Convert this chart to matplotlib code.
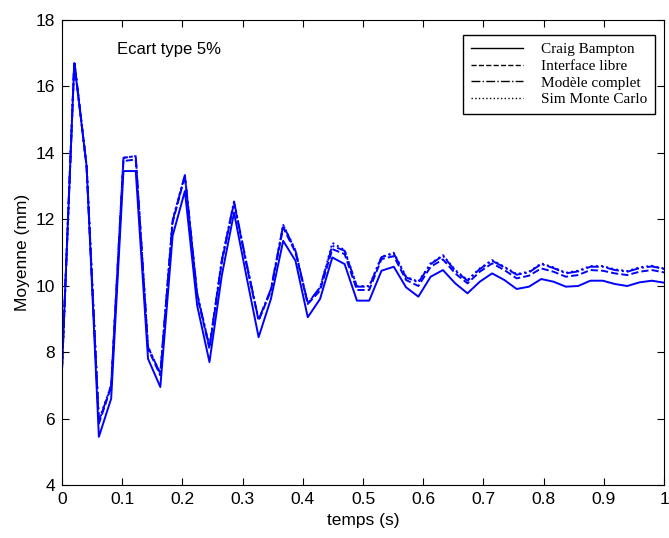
import numpy as np
import matplotlib.pyplot as plt

# temps: 50 points entre 0 et 1 s
temps = np.linspace(0, 1, 50)

craig_bampton = [7.5, 16.7, 13.6, 5.45, 6.6, 13.45, 13.45, 7.8, 6.95, 11.5,
                 12.85, 9.4, 7.7, 10.3, 12.2, 10.3, 8.45, 9.6, 11.35, 10.75,
                 9.05, 9.6, 10.85, 10.65, 9.55, 9.55, 10.45, 10.57, 9.95, 9.67,
                 10.27, 10.47, 10.07, 9.77, 10.12, 10.37, 10.17, 9.9, 9.97, 10.2,
                 10.12, 9.97, 9.99, 10.15, 10.15, 10.05, 9.99, 10.1, 10.15, 10.09]

interface_libre = [7.5, 16.75, 13.6, 5.85, 6.95, 13.75, 13.8, 8.1, 7.3, 11.9,
                   13.3, 9.7, 8.1, 10.7, 12.5, 10.65, 8.95, 9.85, 11.75, 11.0,
                   9.45, 9.85, 11.1, 10.95, 9.87, 9.87, 10.8, 10.89, 10.17, 9.99,
                   10.57, 10.79, 10.37, 10.07, 10.42, 10.67, 10.47, 10.22, 10.3, 10.52,
                   10.42, 10.27, 10.32, 10.47, 10.45, 10.37, 10.32, 10.42, 10.47, 10.4]

modele_complet = [7.5, 16.75, 13.6, 5.9, 7.0, 13.85, 13.9, 8.15, 7.35, 11.95,
                  13.33, 9.75, 8.15, 10.75, 12.53, 10.7, 8.97, 9.9, 11.82, 11.05,
                  9.47, 9.95, 11.2, 11.05, 9.97, 9.97, 10.86, 10.97, 10.25, 10.1,
                  10.65, 10.9, 10.45, 10.15, 10.5, 10.75, 10.55, 10.33, 10.4, 10.65,
                  10.53, 10.37, 10.43, 10.57, 10.57, 10.47, 10.42, 10.53, 10.58, 10.5]

sim_monte_carlo = [7.5, 16.75, 13.6, 5.95, 7.0, 13.85, 13.9, 8.16, 7.36, 11.98,
                   13.33, 9.77, 8.16, 10.77, 12.53, 10.7, 8.96, 9.87, 11.83, 11.07,
                   9.47, 9.92, 11.29, 11.07, 9.99, 9.99, 10.87, 10.99, 10.27, 10.12,
                   10.67, 10.92, 10.47, 10.17, 10.52, 10.77, 10.57, 10.35, 10.42, 10.67,
                   10.55, 10.39, 10.45, 10.59, 10.59, 10.49, 10.44, 10.55, 10.6, 10.52]

noms = ['Craig Bampton', 'Interface libre', 'Modèle complet', 'Sim Monte Carlo']

fig = plt.figure(figsize=(6.69, 5.38), dpi=100)
ax = fig.add_axes([0.0927, 0.0985, 0.9, 0.8645])

bleu = '#0000ff'
ax.plot(temps, craig_bampton, color=bleu, lw=1.4, ls='-')
ax.plot(temps, interface_libre, color=bleu, lw=1.4, ls='--')
ax.plot(temps, modele_complet, color=bleu, lw=1.4, ls='-.')
ax.plot(temps, sim_monte_carlo, color=bleu, lw=1.4, ls=':')

# legende en noir comme dans la figure d'origine
handles = [plt.Line2D([], [], color='black', lw=1, ls=s) for s in ['-', '--', '-.', ':']]
leg = ax.legend(handles, noms, loc='upper right', bbox_to_anchor=(0.985, 0.968),
                borderaxespad=0, fancybox=False, framealpha=1, edgecolor='black',
                prop={'family': 'Liberation Serif', 'size': 11},
                handlelength=3.4, handletextpad=1.2, labelspacing=0.2,
                borderpad=0.5)
leg.get_frame().set_linewidth(1.0)

ax.text(0.092, 17.1, 'Ecart type 5%', fontsize=12, va='center', family='Liberation Sans')

ax.set_xlim(0, 1)
ax.set_ylim(4, 18)
ax.set_xticks(np.arange(0, 1.01, 0.1))
ax.set_xticklabels(['0', '0.1', '0.2', '0.3', '0.4', '0.5', '0.6', '0.7', '0.8', '0.9', '1'])
ax.set_yticks(range(4, 19, 2))
ax.tick_params(direction='in', top=True, right=True, length=5, labelsize=12.5, pad=5)
for lab in ax.get_xticklabels() + ax.get_yticklabels():
    lab.set_family('Liberation Sans')

ax.set_xlabel('temps (s)', fontsize=12.5, family='Liberation Sans', labelpad=4)
ax.set_ylabel('Moyenne (mm)', fontsize=12.5, family='Liberation Sans', labelpad=4)

plt.savefig('out.png', dpi=100)
